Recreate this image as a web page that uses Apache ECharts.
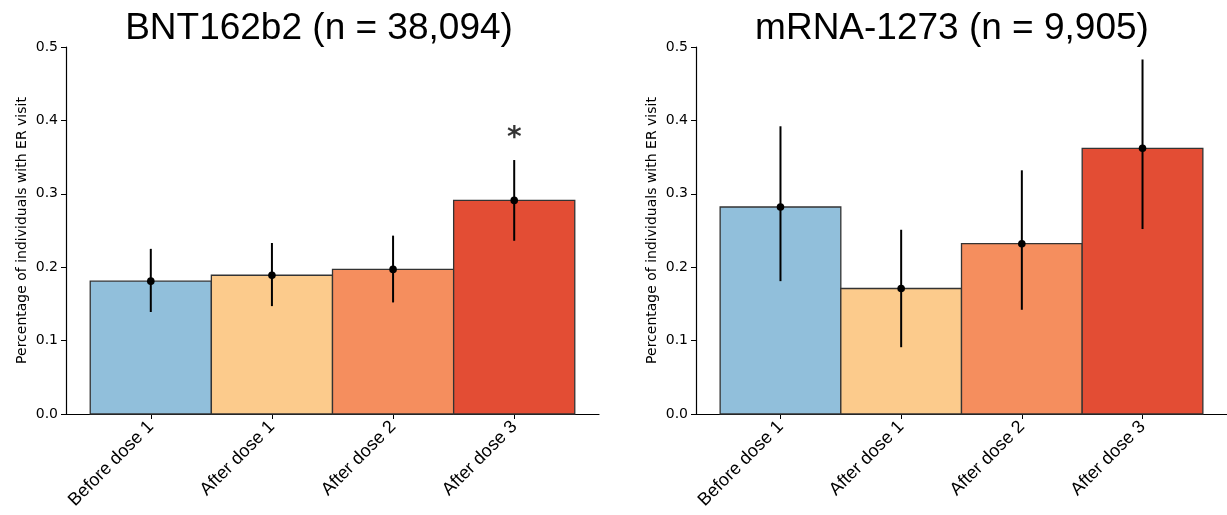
<!DOCTYPE html>
<html>
<head>
<meta charset="utf-8">
<script src="https://cdn.jsdelivr.net/npm/echarts@6/dist/echarts.min.js"></script>
<style>
  html, body { margin: 0; padding: 0; background: #fff; }
  #chart { width: 1227px; height: 515px; }
</style>
</head>
<body>
<div id="chart"></div>
<script>
// categories and colours of the bars
var categories = ['Before dose 1', 'After dose 1', 'After dose 2', 'After dose 3'];
var barColors = ['#91bfdb', '#fccb8c', '#f58e5e', '#e34d34'];

// BNT162b2 panel
var bntValues = [0.181, 0.189, 0.197, 0.291];
var bntLow = [0.139, 0.147, 0.152, 0.236];
var bntHigh = [0.225, 0.233, 0.243, 0.346];
var bntStar = [[3, 0.383]];

// mRNA-1273 panel
var mrnaValues = [0.282, 0.171, 0.232, 0.362];
var mrnaLow = [0.181, 0.091, 0.142, 0.252];
var mrnaHigh = [0.392, 0.251, 0.332, 0.483];

var yTicks = [0, 0.1, 0.2, 0.3, 0.4, 0.5];

var chart = echarts.init(document.getElementById('chart'));

function barData(vals) {
  return vals.map(function (v, i) { return [i, v]; });
}
function errData(vals, lo, hi) {
  return vals.map(function (v, i) { return [i, v, lo[i], hi[i]]; });
}

function renderBar(params, api) {
  var i = api.value(0), v = api.value(1);
  var p0 = api.coord([i - 0.5, v]);
  var p1 = api.coord([i + 0.5, 0]);
  return {
    type: 'rect',
    shape: { x: p0[0], y: p0[1], width: p1[0] - p0[0], height: p1[1] - p0[1] },
    style: { fill: barColors[i], stroke: '#333', lineWidth: 1.3 }
  };
}

function renderErr(params, api) {
  var i = api.value(0);
  var c = api.coord([i, api.value(1)]);
  var lo = api.coord([i, api.value(2)]);
  var hi = api.coord([i, api.value(3)]);
  return {
    type: 'group',
    children: [
      { type: 'line', shape: { x1: lo[0], y1: lo[1], x2: hi[0], y2: hi[1] },
        style: { stroke: '#000', lineWidth: 2 } },
      { type: 'circle', shape: { cx: c[0], cy: c[1], r: 3.8 }, style: { fill: '#000' } }
    ]
  };
}

function xAxisFor(gi) {
  return {
    type: 'value', gridIndex: gi, min: -0.7, max: 3.7,
    splitLine: { show: false },
    axisLine: { show: true, onZero: false, lineStyle: { color: '#000', width: 1.2 } },
    axisTick: { show: true, customValues: [0, 1, 2, 3], length: 5, lineStyle: { color: '#000' } },
    axisLabel: {
      customValues: [0, 1, 2, 3], rotate: 45, margin: 10,
      fontSize: 18, color: '#000', fontFamily: 'Liberation Sans',
      formatter: function (v) { return categories[Math.round(v)]; }
    }
  };
}

function yAxisFor(gi) {
  return {
    type: 'value', gridIndex: gi, min: yTicks[0], max: yTicks[yTicks.length - 1], interval: 0.1,
    name: 'Percentage of individuals with ER visit',
    nameLocation: 'middle', nameGap: 37,
    nameTextStyle: { fontSize: 14, color: '#000', fontFamily: 'DejaVu Sans' },
    splitLine: { show: false },
    axisLine: { show: true, onZero: false, lineStyle: { color: '#000', width: 1.2 } },
    axisTick: { show: true, length: 5, lineStyle: { color: '#000' } },
    axisLabel: {
      fontSize: 14, color: '#000', fontFamily: 'DejaVu Sans', margin: 8,
      formatter: function (v) { return v.toFixed(1); }
    }
  };
}

chart.setOption({
  animation: false,
  title: [
    { text: 'BNT162b2 (n = 38,094)', left: 314, top: 5, textAlign: 'center',
      textStyle: { fontSize: 37, fontWeight: 'normal', color: '#000', fontFamily: 'Liberation Sans' } },
    { text: 'mRNA-1273 (n = 9,905)', left: 947, top: 5, textAlign: 'center',
      textStyle: { fontSize: 37, fontWeight: 'normal', color: '#000', fontFamily: 'Liberation Sans' } }
  ],
  grid: [
    { left: 66, top: 47, width: 533, height: 367 },
    { left: 696, top: 47, width: 531, height: 367 }
  ],
  xAxis: [xAxisFor(0), xAxisFor(1)],
  yAxis: [yAxisFor(0), yAxisFor(1)],
  series: [
    { type: 'custom', xAxisIndex: 0, yAxisIndex: 0, renderItem: renderBar, data: barData(bntValues) },
    { type: 'custom', xAxisIndex: 0, yAxisIndex: 0, renderItem: renderErr, data: errData(bntValues, bntLow, bntHigh), z: 3 },
    { type: 'scatter', xAxisIndex: 0, yAxisIndex: 0, symbolSize: 0, data: bntStar,
      label: { show: true, position: 'inside', formatter: '*', fontSize: 28, fontWeight: 'bold',
        color: '#000', fontFamily: 'DejaVu Sans', offset: [0, 6] } },
    { type: 'custom', xAxisIndex: 1, yAxisIndex: 1, renderItem: renderBar, data: barData(mrnaValues) },
    { type: 'custom', xAxisIndex: 1, yAxisIndex: 1, renderItem: renderErr, data: errData(mrnaValues, mrnaLow, mrnaHigh), z: 3 }
  ]
});
</script>
</body>
</html>
